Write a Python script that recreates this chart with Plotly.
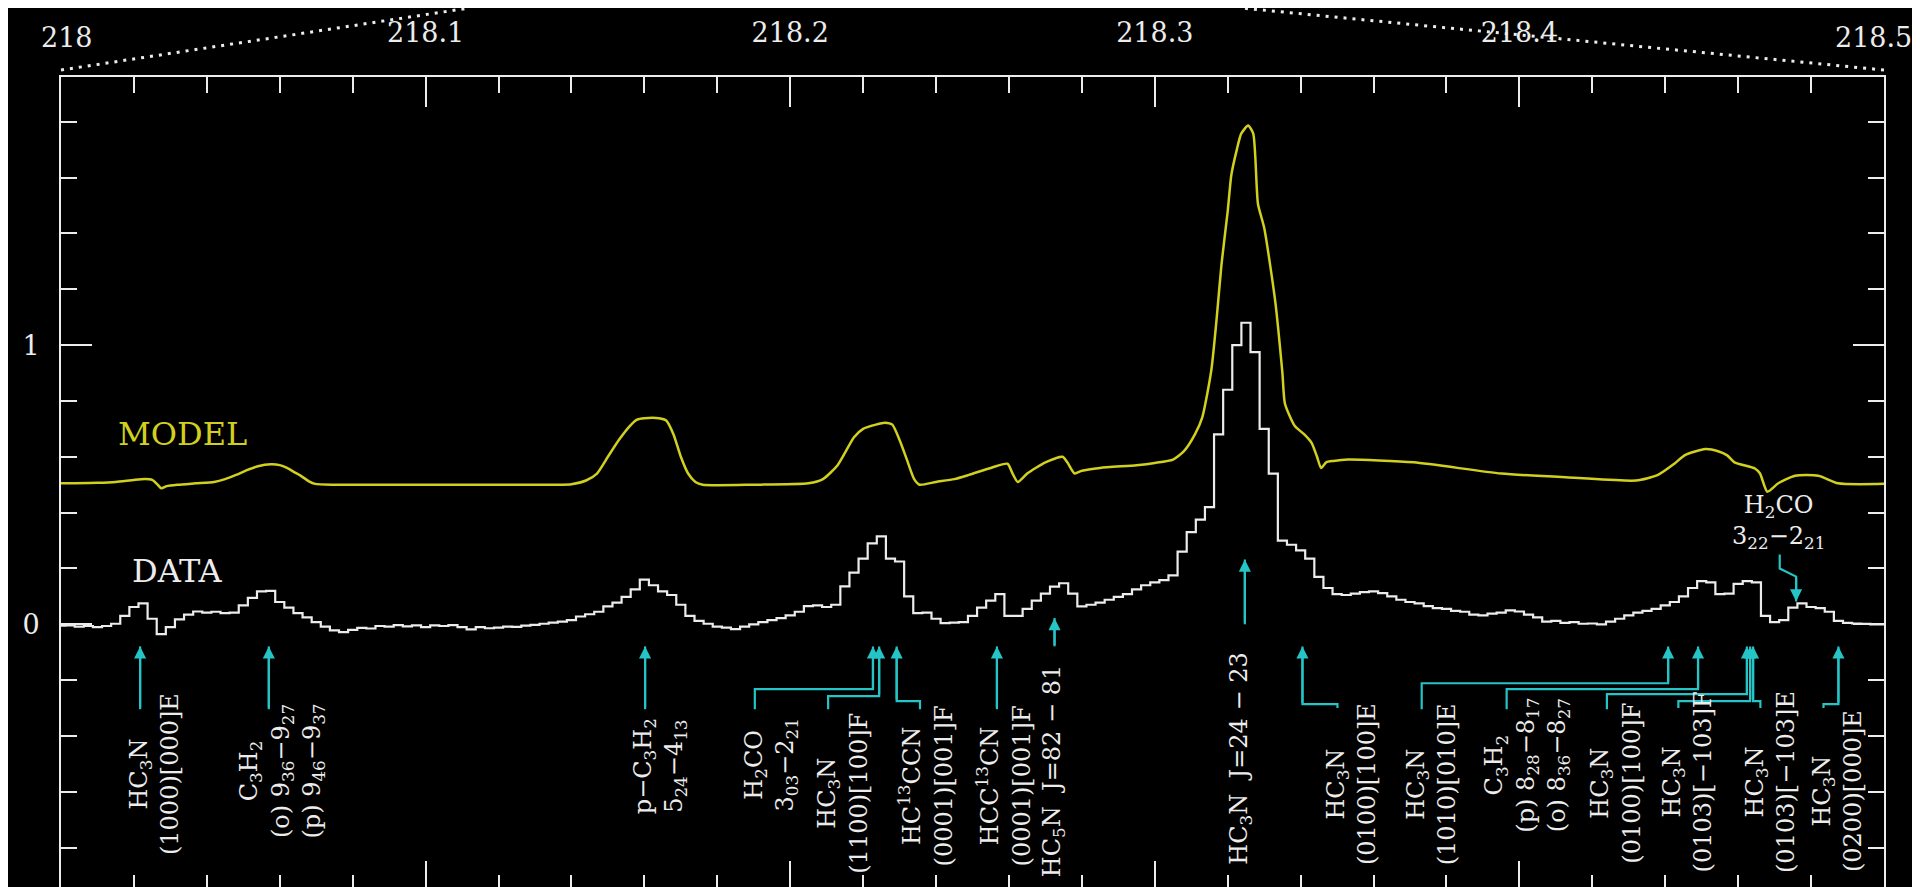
import numpy as np
import plotly.graph_objects as go

# ---------------- data ----------------
# Observed spectrum (DATA), channel spacing 2.5 MHz, starting at 218.000 GHz
data_f0 = 218.0
data_df = 0.0025
data_vals = [
    -0.005, -0.004, -0.008, -0.006, -0.010, -0.006, 0.002, 0.030, 0.062, 0.075,
    0.020, -0.035, -0.010, 0.018, 0.035, 0.046, 0.042, 0.045, 0.040, 0.042,
    0.068, 0.095, 0.118, 0.120, 0.080, 0.060, 0.040, 0.025, 0.008, -0.008,
    -0.022, -0.028, -0.020, -0.013, -0.015, -0.006, -0.008, -0.003, -0.007, -0.004,
    -0.010, -0.004, -0.006, -0.003, -0.010, -0.018, -0.010, -0.014, -0.012, -0.008,
    -0.009, -0.005, -0.002, 0.002, 0.006, 0.010, 0.015, 0.028, 0.036, 0.045,
    0.064, 0.078, 0.098, 0.125, 0.160, 0.140, 0.118, 0.105, 0.070, 0.030,
    0.012, 0.002, -0.008, -0.012, -0.017, -0.008, 0.000, 0.008, 0.015, 0.022,
    0.032, 0.045, 0.065, 0.068, 0.062, 0.070, 0.136, 0.185, 0.235, 0.290,
    0.315, 0.235, 0.225, 0.100, 0.040, 0.042, 0.020, 0.004, 0.006, 0.008,
    0.030, 0.060, 0.085, 0.108, 0.030, 0.030, 0.055, 0.085, 0.110, 0.135,
    0.147, 0.110, 0.064, 0.070, 0.078, 0.088, 0.098, 0.108, 0.125, 0.140,
    0.150, 0.158, 0.175, 0.260, 0.330, 0.375, 0.420, 0.680, 0.840, 1.000,
    1.080, 0.975, 0.700, 0.540, 0.300, 0.285, 0.265, 0.235, 0.170, 0.130,
    0.108, 0.105, 0.110, 0.115, 0.118, 0.112, 0.100, 0.088, 0.080, 0.075,
    0.065, 0.058, 0.055, 0.048, 0.045, 0.035, 0.032, 0.038, 0.042, 0.050,
    0.046, 0.035, 0.025, 0.010, 0.012, 0.005, 0.008, 0.002, 0.003, 0.000,
    0.010, 0.020, 0.032, 0.042, 0.048, 0.055, 0.068, 0.080, 0.100, 0.130,
    0.155, 0.150, 0.108, 0.110, 0.145, 0.155, 0.150, 0.030, 0.008, 0.015,
    0.060, 0.075, 0.062, 0.058, 0.045, 0.012, 0.005, 0.003, 0.002, 0.000,
    0.000,
]
data_freq = [data_f0 + i * data_df for i in range(len(data_vals))]

# Synthetic spectrum (MODEL)
model_freq = [
    218.000, 218.010, 218.015, 218.020, 218.023, 218.025, 218.0265, 218.0275, 218.029, 218.032,
    218.037, 218.042, 218.045, 218.048, 218.051, 218.054, 218.0576, 218.060, 218.062, 218.064,
    218.066, 218.068, 218.0697, 218.075, 218.100, 218.130, 218.140, 218.144, 218.147, 218.150,
    218.153, 218.156, 218.158, 218.160, 218.164, 218.166, 218.168, 218.170, 218.172, 218.174,
    218.176, 218.190, 218.205, 218.209, 218.213, 218.2175, 218.220, 218.2235, 218.226, 218.228,
    218.230, 218.232, 218.234, 218.2355, 218.240, 218.245, 218.249, 218.255, 218.2596, 218.261,
    218.2624, 218.265, 218.270, 218.2747, 218.276, 218.278, 218.280, 218.285, 218.295, 218.300,
    218.305, 218.308, 218.311, 218.313, 218.3155, 218.317, 218.3183, 218.320, 218.321, 218.3225,
    218.3237, 218.3256, 218.327, 218.3283, 218.330, 218.333, 218.335, 218.3357, 218.3384, 218.341,
    218.343, 218.3445, 218.3456, 218.347, 218.349, 218.353, 218.371, 218.395, 218.415, 218.432,
    218.438, 218.4425, 218.4454, 218.451, 218.4545, 218.457, 218.459, 218.4646, 218.466, 218.468,
    218.471, 218.4756, 218.482, 218.4874, 218.500,
]
model_vals = [
    0.505, 0.507, 0.510, 0.517, 0.520, 0.517, 0.500, 0.487, 0.495, 0.500,
    0.505, 0.510, 0.520, 0.535, 0.552, 0.566, 0.573, 0.570, 0.560, 0.545,
    0.530, 0.512, 0.503, 0.500, 0.500, 0.500, 0.502, 0.515, 0.540, 0.600,
    0.660, 0.710, 0.733, 0.738, 0.738, 0.730, 0.680, 0.600, 0.540, 0.510,
    0.500, 0.500, 0.505, 0.520, 0.570, 0.670, 0.700, 0.715, 0.722, 0.715,
    0.660, 0.590, 0.520, 0.500, 0.510, 0.520, 0.535, 0.560, 0.575, 0.540,
    0.510, 0.540, 0.580, 0.600, 0.580, 0.540, 0.550, 0.560, 0.570, 0.578,
    0.590, 0.620, 0.680, 0.740, 0.910, 1.100, 1.290, 1.480, 1.610, 1.700,
    1.757, 1.786, 1.757, 1.505, 1.420, 1.160, 0.900, 0.790, 0.710, 0.680,
    0.650, 0.600, 0.560, 0.580, 0.585, 0.590, 0.580, 0.540, 0.525, 0.515,
    0.535, 0.575, 0.606, 0.628, 0.620, 0.605, 0.580, 0.558, 0.540, 0.475,
    0.505, 0.532, 0.532, 0.505, 0.503,
]

# Line identifications: rotated labels (centre freq, top y) and arrows
NB = "\u00a0"
label_texts = [
    "HC<sub>3</sub>N<br>(1000)[000]E",
    "C<sub>3</sub>H<sub>2</sub><br>(o) 9<sub>36</sub>−9<sub>27</sub><br>(p) 9<sub>46</sub>−9<sub>37</sub>",
    "p−C<sub>3</sub>H<sub>2</sub><br>5<sub>24</sub>−4<sub>13</sub>",
    "H<sub>2</sub>CO<br>3<sub>03</sub>−2<sub>21</sub>",
    "HC<sub>3</sub>N<br>(1100)[100]F",
    "HC<sup>13</sup>CCN<br>(0001)[001]F",
    "HCC<sup>13</sup>CN<br>(0001)[001]F",
    "HC<sub>5</sub>N" + NB * 2 + "J=82" + NB + "−" + NB + "81",
    "HC<sub>3</sub>N" + NB * 2 + "J=24" + NB + "−" + NB + "23",
    "HC<sub>3</sub>N<br>(0100)[100]E",
    "HC<sub>3</sub>N<br>(1010)[010]E",
    "C<sub>3</sub>H<sub>2</sub><br>(p)" + NB + "8<sub>28</sub>−8<sub>17</sub><br>(o)" + NB + "8<sub>36</sub>−8<sub>27</sub>",
    "HC<sub>3</sub>N<br>(0100)[100]F",
    "HC<sub>3</sub>N<br>(0103)[−103]F",
    "HC<sub>3</sub>N<br>(0103)[−103]E",
    "HC<sub>3</sub>N<br>(0200)[000]E",
]
label_freq = [218.0255, 218.0606, 218.1643, 218.1947, 218.2145, 218.2372, 218.2586, 218.2721,
              218.3236, 218.3538, 218.3758, 218.4021, 218.4265, 218.4462, 218.4687, 218.4871]
label_top = [-0.239, -0.275, -0.329, -0.329, -0.311, -0.282, -0.282, -0.139,
             -0.095, -0.275, -0.275, -0.257, -0.275, -0.232, -0.232, -0.300]

# arrow paths: tail ... tip (freq, intensity)
arrow_paths = [
    [(218.0217, -0.304), (218.0217, -0.079)],
    [(218.0570, -0.304), (218.0570, -0.079)],
    [(218.1602, -0.304), (218.1602, -0.079)],
    [(218.1903, -0.304), (218.1903, -0.232), (218.2227, -0.232), (218.2227, -0.079)],
    [(218.2104, -0.304), (218.2104, -0.257), (218.2244, -0.257), (218.2244, -0.079)],
    [(218.2356, -0.304), (218.2356, -0.275), (218.2292, -0.275), (218.2292, -0.079)],
    [(218.2567, -0.304), (218.2567, -0.079)],
    [(218.2725, -0.079), (218.2725, 0.0225)],
    [(218.3247, 0.000), (218.3247, 0.232)],
    [(218.3501, -0.300), (218.3501, -0.286), (218.3405, -0.286), (218.3405, -0.079)],
    [(218.3732, -0.304), (218.3732, -0.211), (218.4408, -0.211), (218.4408, -0.079)],
    [(218.3965, -0.304), (218.3965, -0.232), (218.4490, -0.232), (218.4490, -0.079)],
    [(218.4240, -0.304), (218.4240, -0.250), (218.4624, -0.250), (218.4624, -0.079)],
    [(218.4436, -0.300), (218.4436, -0.275), (218.4633, -0.275), (218.4633, -0.079)],
    [(218.4661, -0.300), (218.4661, -0.275), (218.4641, -0.275), (218.4641, -0.079)],
    [(218.4834, -0.300), (218.4834, -0.286), (218.4875, -0.286), (218.4875, -0.079)],
    [(218.4714, 0.250), (218.4714, 0.200), (218.4759, 0.171), (218.4759, 0.082)],
]

h2co_label = "H<sub>2</sub>CO<br>3<sub>22</sub>−2<sub>21</sub>"
h2co_pos = (218.4711, 0.368)

x_major = [218.0, 218.1, 218.2, 218.3, 218.4, 218.5]
x_major_text = ["", "218.1", "218.2", "218.3", "218.4", ""]
x_edge_text = ["218", "218.5"]
y_major = [0, 1]
y_major_text = ["0", "1"]

# ---------------- figure ----------------
CYAN = "#25c4c6"
YELLOW = "#d2d01e"
WHITE = "#ececec"
FONT = "DejaVu Serif"

fig = go.Figure()

fig.add_trace(go.Scatter(x=model_freq, y=model_vals, mode="lines",
                         line=dict(color=YELLOW, width=2.5, shape="spline", smoothing=0.6),
                         hoverinfo="skip"))
fig.add_trace(go.Scatter(x=data_freq, y=data_vals, mode="lines", line_shape="hvh",
                         line=dict(color=WHITE, width=2.2), hoverinfo="skip"))

# arrow bodies
ax_x, ax_y = [], []
for path in arrow_paths:
    for (px, py) in path:
        ax_x.append(px)
        ax_y.append(py)
    ax_x.append(None)
    ax_y.append(None)
fig.add_trace(go.Scatter(x=ax_x, y=ax_y, mode="lines",
                         line=dict(color=CYAN, width=2.2), hoverinfo="skip"))

annotations = []
for path in arrow_paths:
    (tx, ty) = path[-1]
    (sx, sy) = path[-2]
    annotations.append(dict(x=tx, y=ty, ax=sx, ay=sy, xref="x", yref="y",
                            axref="x", ayref="y", text="", showarrow=True,
                            arrowhead=2, arrowsize=1.1, arrowwidth=2.2,
                            arrowcolor=CYAN, standoff=0))

for txt, fx, fy in zip(label_texts, label_freq, label_top):
    annotations.append(dict(x=fx, y=fy, xref="x", yref="y", text=txt,
                            showarrow=False, textangle=-90, xanchor="center",
                            yanchor="top", align="center",
                            font=dict(family=FONT, size=24, color=WHITE)))

annotations.append(dict(x=h2co_pos[0], y=h2co_pos[1], xref="x", yref="y",
                        text=h2co_label, showarrow=False, xanchor="center",
                        yanchor="middle", align="center",
                        font=dict(family=FONT, size=24, color=WHITE)))

annotations.append(dict(x=218.0150, y=0.68, xref="x", yref="y", text="MODEL",
                        showarrow=False, xanchor="left", yanchor="middle",
                        font=dict(family=FONT, size=32, color=YELLOW)))
annotations.append(dict(x=218.0190, y=0.19, xref="x", yref="y", text="DATA",
                        showarrow=False, xanchor="left", yanchor="middle",
                        font=dict(family=FONT, size=32, color=WHITE)))

# edge tick labels of the top axis, nudged inside the page
annotations.append(dict(x=6 / 1823, y=1.0, xref="paper", yref="paper",
                        text=x_edge_text[0], showarrow=False, xanchor="center",
                        yanchor="bottom", yshift=22,
                        font=dict(family=FONT, size=27, color=WHITE)))
annotations.append(dict(x=1.0 - 11 / 1823, y=1.0, xref="paper", yref="paper",
                        text=x_edge_text[1], showarrow=False, xanchor="center",
                        yanchor="bottom", yshift=22,
                        font=dict(family=FONT, size=27, color=WHITE)))

# zoom connector dotted lines above the frame (paper coords)
shapes = [
    dict(type="line", xref="paper", yref="paper",
         x0=0.0, y0=1.0 + 7 / 816, x1=(460 - 53) / 1823, y1=1.0 + 69 / 816,
         line=dict(color=WHITE, width=3, dash="3px,6px")),
    dict(type="line", xref="paper", yref="paper",
         x0=1.0, y0=1.0 + 7 / 816, x1=(1235 - 53) / 1823, y1=1.0 + 69 / 816,
         line=dict(color=WHITE, width=3, dash="3px,6px")),
]

x_minor = [round(218.0 + 0.02 * i, 3) for i in range(26) if i % 5 != 0]
y_minor = [round(-0.8 + 0.2 * i, 2) for i in range(14) if round(-0.8 + 0.2 * i, 2) not in (0.0, 1.0)]

fig.update_layout(
    width=1920, height=887,
    margin=dict(l=53, r=44, t=69, b=2),
    paper_bgcolor="black", plot_bgcolor="black",
    showlegend=False,
    annotations=annotations,
    shapes=shapes,
    xaxis=dict(
        range=[218.0, 218.5], side="top", showgrid=False, zeroline=False,
        tickmode="array", tickvals=x_major, ticktext=x_major_text,
        ticks="inside", ticklen=30, tickwidth=2, tickcolor=WHITE,
        showline=True, linecolor=WHITE, linewidth=2, mirror="ticks",
        tickfont=dict(family=FONT, size=27, color=WHITE),
        ticklabelstandoff=22,
        minor=dict(tickmode="array", tickvals=x_minor, ticks="inside",
                   ticklen=16, tickwidth=2, tickcolor=WHITE, showgrid=False),
    ),
    yaxis=dict(
        range=[-0.955, 1.96], showgrid=False, zeroline=False,
        tickmode="array", tickvals=y_major, ticktext=y_major_text,
        ticks="inside", ticklen=31, tickwidth=2, tickcolor=WHITE,
        showline=True, linecolor=WHITE, linewidth=2, mirror="ticks",
        tickfont=dict(family=FONT, size=27, color=WHITE),
        ticklabelstandoff=14,
        minor=dict(tickmode="array", tickvals=y_minor, ticks="inside",
                   ticklen=16, tickwidth=2, tickcolor=WHITE, showgrid=False),
    ),
)

fig.write_html("out.html", config={"displayModeBar": False})
